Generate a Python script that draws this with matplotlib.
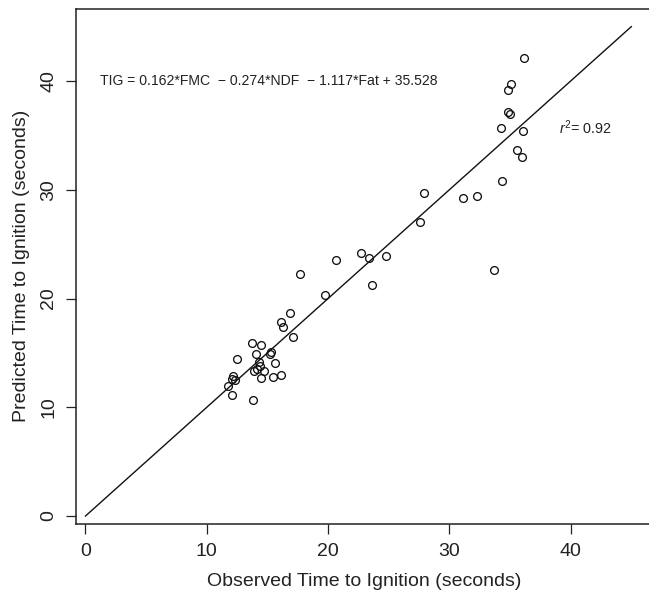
import numpy as np
import matplotlib
matplotlib.use("Agg")
import matplotlib.pyplot as plt

plt.rcParams['font.family'] = ['Liberation Sans', 'DejaVu Sans']
plt.rcParams['mathtext.fontset'] = 'custom'
plt.rcParams['mathtext.rm'] = 'Liberation Sans'
plt.rcParams['mathtext.it'] = 'Liberation Sans:italic'

# observed vs predicted time to ignition (s)
observed = [36.18, 35.08, 34.80, 34.86, 35.00, 34.28, 36.10, 35.60, 35.96, 34.36,
            31.12, 32.28, 27.91, 27.60, 33.68, 24.77, 22.69, 23.37, 20.63, 23.65,
            17.66, 19.77, 16.86, 16.12, 16.28, 17.08, 13.75, 14.49,
            14.03, 15.27, 15.19, 12.46, 14.33, 15.60, 14.39, 13.89, 14.11, 14.72,
            14.47, 15.43, 16.09, 12.19, 12.05, 12.30, 11.77, 12.05, 13.84]
predicted = [42.09, 39.70, 39.17, 37.18, 36.97, 35.68, 35.37, 33.69, 33.04, 30.80,
             29.27, 29.46, 29.67, 27.00, 22.62, 23.94, 24.21, 23.75, 23.54, 21.24,
             22.22, 20.29, 18.64, 17.84, 17.38, 16.49, 15.88, 15.70,
             14.90, 15.05, 14.87, 14.41, 14.16, 14.10, 13.82, 13.31, 13.49, 13.31,
             12.69, 12.81, 12.94, 12.87, 12.63, 12.51, 11.98, 11.13, 10.64]

one_to_one = [0, 45]
ticks = [0, 10, 20, 30, 40]

fig = plt.figure(figsize=(6.49, 5.96), dpi=100)
ax = fig.add_axes([76 / 649, 1 - 524.3 / 596, 579.6 / 649, 515.3 / 596])

ax.plot(one_to_one, one_to_one, color='#111111', lw=1.0)
ax.plot(observed, predicted, 'o', mfc='none', mec='#111111', mew=0.95, ms=5.6)

ax.set_xlim(-0.78, 47.0)
ax.set_ylim(-0.76, 46.62)
ax.set_xticks(ticks)
ax.set_yticks(ticks)
ax.tick_params(direction='out', length=7.5, width=0.9, labelsize=14,
               color='#222222', labelcolor='#222222', pad=6)
for lab in ax.get_yticklabels():
    lab.set_rotation(90)
    lab.set_va('center')
for sp in ax.spines.values():
    sp.set_linewidth(1.1)
    sp.set_color('#222222')

ax.text(1.2, 40, "TIG = 0.162*FMC  \u2212 0.274*NDF  \u2212 1.117*Fat + 35.528",
        fontsize=10.1, va='center', ha='left', color='#222222')
ax.text(39.0, 35.7, r"$\mathit{r}^2$= 0.92", fontsize=10.4, va='center', ha='left',
        color='#222222')

fig.text(364 / 649, 1 - 582 / 596, "Observed Time to Ignition (seconds)",
         fontsize=14, ha='center', va='center', color='#222222')
fig.text(22 / 649, 1 - 266 / 596, "Predicted Time to Ignition (seconds)",
         fontsize=14, ha='center', va='center', rotation=90, color='#222222')

fig.savefig("out.png", dpi=100)
